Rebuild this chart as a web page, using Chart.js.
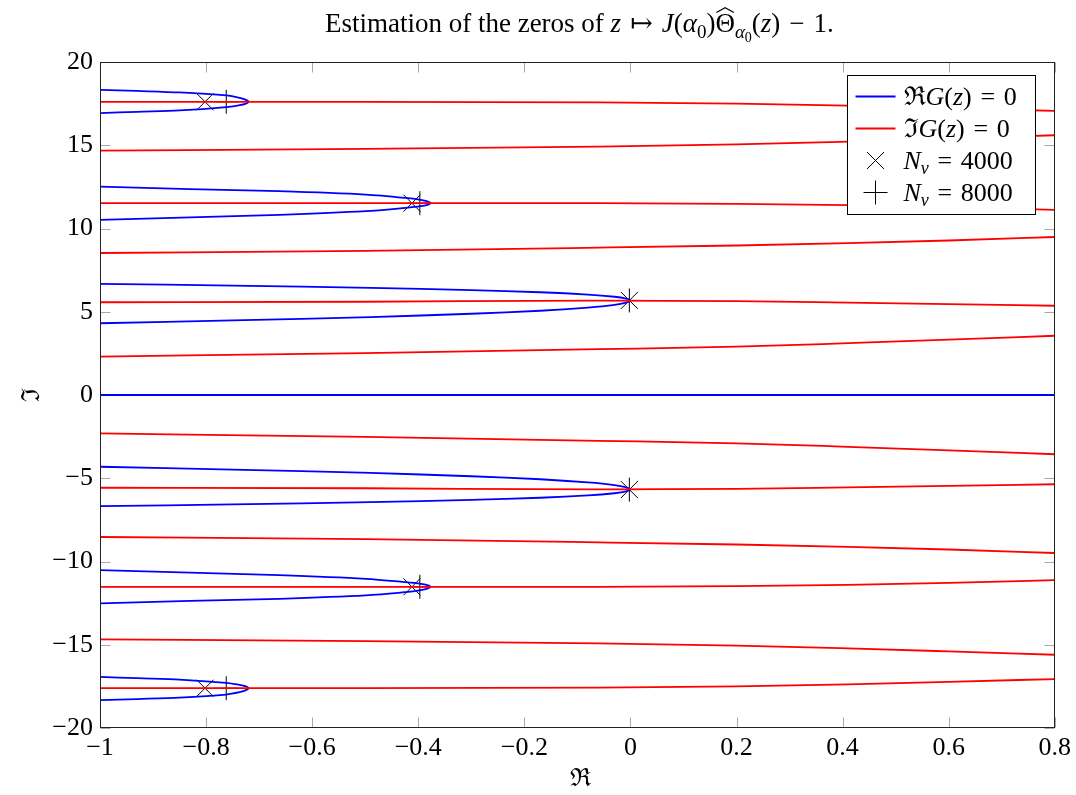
<!DOCTYPE html>
<html lang="en">
<head>
<meta charset="UTF-8" />
<title>Zeros of J(alpha0) Theta - 1</title>
<script src="https://cdn.jsdelivr.net/npm/chart.js"></script>
<style>
  body { margin: 0; background: #fff; }
</style>
</head>
<body>
<canvas id="zerosChart" width="1076" height="795"></canvas>
<script>
// x positions where the red (Im G = 0) curves were read
const redX = [-1, -0.5, -0.06, 0.2, 0.41, 0.6, 0.8];
const redUp1 = [17.61, 17.61, 17.58, 17.50, 17.38, 17.23, 17.06];
const redUp2 = [14.68, 14.78, 14.92, 15.05, 15.22, 15.40, 15.60];
const redUp3 = [11.52, 11.53, 11.53, 11.48, 11.40, 11.28, 11.12];
const redUp4 = [8.53, 8.66, 8.85, 8.98, 9.12, 9.28, 9.49];
const redUp5 = [5.57, 5.60, 5.67, 5.64, 5.55, 5.46, 5.36];
const redUp6 = [2.31, 2.52, 2.75, 2.90, 3.11, 3.32, 3.56];
const redLow6 = [-2.31, -2.52, -2.75, -2.90, -3.11, -3.32, -3.56];
const redLow5 = [-5.57, -5.60, -5.67, -5.64, -5.55, -5.46, -5.36];
const redLow4 = [-8.53, -8.66, -8.85, -8.98, -9.12, -9.28, -9.49];
const redLow3 = [-11.52, -11.53, -11.53, -11.48, -11.40, -11.28, -11.12];
const redLow2 = [-14.68, -14.78, -14.92, -15.05, -15.22, -15.40, -15.60];
const redLow1 = [-17.61, -17.61, -17.58, -17.50, -17.38, -17.23, -17.06];

// blue (Re G = 0) curves: the y = 0 line and six folds
const zeroLine = [[-1, 0], [0.8, 0]];
const foldUp1 = [[-1, 18.33], [-0.93, 18.26], [-0.85, 18.17], [-0.762, 17.99], [-0.737, 17.85], [-0.726, 17.74], [-0.72, 17.61],
  [-0.726, 17.49], [-0.737, 17.41], [-0.762, 17.29], [-0.85, 17.09], [-0.93, 17.01], [-1, 16.93]];
const foldUp2 = [[-1, 12.52], [-0.83, 12.37], [-0.662, 12.24], [-0.499, 12.04], [-0.424, 11.84], [-0.395, 11.72], [-0.383, 11.63], [-0.377, 11.52],
  [-0.383, 11.42], [-0.395, 11.34], [-0.424, 11.24], [-0.499, 11.04], [-0.662, 10.82], [-0.83, 10.67], [-1, 10.52]];
const foldUp3 = [[-1, 6.68], [-0.75, 6.57], [-0.49, 6.43], [-0.3, 6.3], [-0.17, 6.17], [-0.08, 6.03], [-0.03, 5.9], [-0.008, 5.79], [0, 5.68],
  [-0.008, 5.55], [-0.03, 5.41], [-0.08, 5.25], [-0.17, 5.06], [-0.3, 4.88], [-0.49, 4.68], [-0.75, 4.48], [-1, 4.31]];
const foldLow3 = [[-1, -4.31], [-0.75, -4.48], [-0.49, -4.68], [-0.3, -4.88], [-0.17, -5.06], [-0.08, -5.25], [-0.03, -5.41], [-0.008, -5.55], [0, -5.68],
  [-0.008, -5.79], [-0.03, -5.9], [-0.08, -6.03], [-0.17, -6.17], [-0.3, -6.3], [-0.49, -6.43], [-0.75, -6.57], [-1, -6.68]];
const foldLow2 = [[-1, -10.52], [-0.83, -10.67], [-0.662, -10.82], [-0.499, -11.04], [-0.424, -11.24], [-0.395, -11.34], [-0.383, -11.42], [-0.377, -11.52],
  [-0.383, -11.63], [-0.395, -11.72], [-0.424, -11.84], [-0.499, -12.04], [-0.662, -12.24], [-0.83, -12.37], [-1, -12.52]];
const foldLow1 = [[-1, -16.93], [-0.93, -17.01], [-0.85, -17.09], [-0.762, -17.29], [-0.737, -17.41], [-0.726, -17.49], [-0.72, -17.61],
  [-0.726, -17.74], [-0.737, -17.85], [-0.762, -17.99], [-0.85, -18.17], [-0.93, -18.26], [-1, -18.33]];

// estimated zeros
const nv4000X = [-0.802, -0.412, -0.002, -0.002, -0.412, -0.802];
const nv4000Y = [17.61, 11.52, 5.68, -5.68, -11.52, -17.61];
const nv8000X = [-0.762, -0.397, -0.002, -0.002, -0.397, -0.762];
const nv8000Y = [17.61, 11.52, 5.68, -5.68, -11.52, -17.61];

// ticks
const xTickValues = [-1, -0.8, -0.6, -0.4, -0.2, 0, 0.2, 0.4, 0.6, 0.8];
const xTickLabels = ['\u22121', '\u22120.8', '\u22120.6', '\u22120.4', '\u22120.2', '0', '0.2', '0.4', '0.6', '0.8'];
const yTickValues = [-20, -15, -10, -5, 0, 5, 10, 15, 20];
const yTickLabels = ['\u221220', '\u221215', '\u221210', '\u22125', '0', '5', '10', '15', '20'];

// texts, as runs: r = roman, i = italic, s = italic subscript, s0 = roman subscript, ss = small second-level subscript, hat = hat accent
const titleRuns = [['Estimation of the zeros of ', 'r'], ['z', 'i'], ['\u2004\u21a6\u2004', 'r'], ['J', 'i'], ['(', 'r'], ['\u03b1', 'i'], ['0', 's0'], [')', 'r'],
  ['\u0398', 'hat'], ['\u03b1', 's'], ['0', 'ss'], ['(', 'r'], ['z', 'i'], [')\u2004\u2212\u20041.', 'r']];
const xTitle = '\u211c';
const yTitle = '\u2111';
const legendLabels = [
  [['\u211c', 'r'], ['G', 'i'], ['(', 'r'], ['z', 'i'], [')\u2004=\u20040', 'r']],
  [['\u2111', 'r'], ['G', 'i'], ['(', 'r'], ['z', 'i'], [')\u2004=\u20040', 'r']],
  [['N', 'i'], ['v', 's'], ['\u2004=\u20044000', 'r']],
  [['N', 'i'], ['v', 's'], ['\u2004=\u20048000', 'r']]
];

const FONT = "'Liberation Serif', 'DejaVu Serif', serif";
const BLUE = '#0000ff';
const RED = '#ff0000';

function pairs(xs, ys) {
  return xs.map((x, i) => ({ x: x, y: ys[i] }));
}
function pts(list) {
  return list.map(p => ({ x: p[0], y: p[1] }));
}

function curve(data, color, extra) {
  return Object.assign({
    data: data,
    showLine: true,
    borderColor: color,
    backgroundColor: color,
    borderWidth: 1.8,
    pointRadius: 0,
    fill: false,
    tension: 0.3
  }, extra || {});
}

const datasets = [];
[redUp1, redUp2, redUp3, redUp4, redUp5, redUp6, redLow6, redLow5, redLow4, redLow3, redLow2, redLow1].forEach(ys => {
  datasets.push(curve(pairs(redX, ys), RED, { cubicInterpolationMode: 'monotone' }));
});
datasets.push(curve(pts(zeroLine), BLUE, { tension: 0 }));
[foldUp1, foldUp2, foldUp3, foldLow3, foldLow2, foldLow1].forEach(f => {
  datasets.push(curve(pts(f), BLUE));
});
datasets.push({
  data: pairs(nv4000X, nv4000Y),
  showLine: false,
  pointStyle: 'crossRot',
  pointRadius: 12,
  pointBorderWidth: 1,
  pointBorderColor: '#000',
  pointBackgroundColor: '#000'
});
datasets.push({
  data: pairs(nv8000X, nv8000Y),
  showLine: false,
  pointStyle: 'cross',
  pointRadius: 12,
  pointBorderWidth: 1,
  pointBorderColor: '#000',
  pointBackgroundColor: '#000'
});

// draw a list of text runs starting at x (baseline y)
function runFont(style, size) {
  if (style === 'i') return 'italic ' + size + 'px ' + FONT;
  if (style === 's') return 'italic ' + Math.round(size * 0.7) + 'px ' + FONT;
  if (style === 's0') return Math.round(size * 0.7) + 'px ' + FONT;
  if (style === 'ss') return Math.round(size * 0.5) + 'px ' + FONT;
  return size + 'px ' + FONT;
}
function runShift(style, size) {
  if (style === 's' || style === 's0') return size * 0.22;
  if (style === 'ss') return size * 0.38;
  return 0;
}
function runsWidth(ctx, runs, size) {
  let w = 0;
  runs.forEach(r => { ctx.font = runFont(r[1], size); w += ctx.measureText(r[0]).width; });
  return w;
}
function drawRuns(ctx, runs, x, y, size) {
  ctx.textAlign = 'left';
  ctx.textBaseline = 'alphabetic';
  runs.forEach(r => {
    ctx.font = runFont(r[1], size);
    const w = ctx.measureText(r[0]).width;
    ctx.fillText(r[0], x, y + runShift(r[1], size));
    if (r[1] === 'hat') {
      ctx.beginPath();
      ctx.lineWidth = 1.2;
      ctx.moveTo(x + 1, y - size * 0.72);
      ctx.lineTo(x + w / 2, y - size * 0.9);
      ctx.lineTo(x + w - 1, y - size * 0.72);
      ctx.stroke();
    }
    x += w;
  });
}

const decor = {
  id: 'decor',
  beforeDatasetsDraw(chart) {
    // small inner ticks on all four sides, under the curves
    const { ctx, chartArea: a, scales } = chart;
    const L = Math.round(a.left) + 0.5, R = Math.round(a.right) - 0.5;
    const T = Math.round(a.top) + 0.5, B = Math.round(a.bottom) - 0.5;
    ctx.save();
    ctx.lineWidth = 1;
    ctx.strokeStyle = '#a8a8a8';
    ctx.beginPath();
    scales.x.ticks.forEach(t => {
      const px = Math.round(scales.x.getPixelForValue(t.value)) + 0.5;
      ctx.moveTo(px, T); ctx.lineTo(px, T + 10);
      ctx.moveTo(px, B); ctx.lineTo(px, B - 10);
    });
    scales.y.ticks.forEach(t => {
      const py = Math.round(scales.y.getPixelForValue(t.value)) + 0.5;
      ctx.moveTo(L, py); ctx.lineTo(L + 10, py);
      ctx.moveTo(R, py); ctx.lineTo(R - 10, py);
    });
    ctx.stroke();
    ctx.restore();
  },
  afterDatasetsDraw(chart) {
    const { ctx, chartArea: a } = chart;
    const L = Math.round(a.left) + 0.5, R = Math.round(a.right) - 0.5;
    const T = Math.round(a.top) + 0.5, B = Math.round(a.bottom) - 0.5;
    ctx.save();
    ctx.lineWidth = 1;
    ctx.strokeStyle = '#222';
    ctx.strokeRect(L, T, R - L, B - T);
    ctx.restore();
  },
  afterDraw(chart) {
    const { ctx, chartArea: a } = chart;
    ctx.save();
    ctx.fillStyle = '#000';
    ctx.strokeStyle = '#000';

    // title
    const tSize = 27;
    const tw = runsWidth(ctx, titleRuns, tSize);
    drawRuns(ctx, titleRuns, (a.left + a.right) / 2 - tw / 2 + 2, 32, tSize);

    // axis titles
    ctx.font = '25px ' + FONT;
    ctx.textAlign = 'center';
    ctx.textBaseline = 'middle';
    ctx.fillText(xTitle, (a.left + a.right) / 2 + 3, 779);
    ctx.save();
    ctx.translate(32, (a.top + a.bottom) / 2);
    ctx.rotate(-Math.PI / 2);
    ctx.fillText(yTitle, 0, 0);
    ctx.restore();

    // legend box
    const lw = 188, lh = 139;
    const lx = Math.round(a.right - 20 - lw) + 0.5;
    const ly = Math.round(a.top + 13) + 0.5;
    ctx.fillStyle = '#fff';
    ctx.fillRect(lx, ly, lw, lh);
    ctx.lineWidth = 1;
    ctx.strokeStyle = '#000';
    ctx.strokeRect(lx, ly, lw, lh);
    const lSize = 26;
    const rowH = 32;
    legendLabels.forEach((runs, i) => {
      const cy = ly + 21 + i * rowH;
      const sx = lx + 8, ex = lx + 48;
      const mx = (sx + ex) / 2;
      ctx.beginPath();
      if (i < 2) {
        ctx.lineWidth = 1.8;
        ctx.strokeStyle = i === 0 ? BLUE : RED;
        ctx.moveTo(sx, cy); ctx.lineTo(ex, cy);
      } else if (i === 2) {
        ctx.lineWidth = 1;
        ctx.strokeStyle = '#000';
        ctx.moveTo(mx - 8.5, cy - 8.5); ctx.lineTo(mx + 8.5, cy + 8.5);
        ctx.moveTo(mx - 8.5, cy + 8.5); ctx.lineTo(mx + 8.5, cy - 8.5);
      } else {
        ctx.lineWidth = 1;
        ctx.strokeStyle = '#000';
        ctx.moveTo(mx - 12, cy); ctx.lineTo(mx + 12, cy);
        ctx.moveTo(mx, cy - 12); ctx.lineTo(mx, cy + 12);
      }
      ctx.stroke();
      ctx.fillStyle = '#000';
      drawRuns(ctx, runs, lx + 56, cy + 8, lSize);
    });
    ctx.restore();
  }
};

new Chart(document.getElementById('zerosChart'), {
  type: 'scatter',
  data: { datasets: datasets },
  options: {
    responsive: false,
    animation: false,
    devicePixelRatio: 1,
    layout: { padding: { top: 62, right: 18, left: 0, bottom: 0 } },
    plugins: {
      legend: { display: false },
      title: { display: false },
      tooltip: { enabled: false }
    },
    scales: {
      x: {
        type: 'linear',
        min: -1,
        max: 0.8,
        grid: { display: false, drawTicks: false },
        border: { display: false },
        afterBuildTicks: s => { s.ticks = xTickValues.map(v => ({ value: v })); },
        afterFit: s => { s.height = 67; },
        ticks: {
          padding: 5,
          color: '#000',
          maxRotation: 0,
          autoSkip: false,
          font: { family: FONT, size: 26 },
          callback: (v, i) => xTickLabels[i]
        }
      },
      y: {
        type: 'linear',
        min: -20,
        max: 20,
        grid: { display: false, drawTicks: false },
        border: { display: false },
        afterBuildTicks: s => { s.ticks = yTickValues.map(v => ({ value: v })); },
        afterFit: s => { s.width = 100; },
        ticks: {
          padding: 7,
          color: '#000',
          autoSkip: false,
          font: { family: FONT, size: 26 },
          callback: (v, i) => yTickLabels[i]
        }
      }
    }
  },
  plugins: [decor]
});
</script>
</body>
</html>
